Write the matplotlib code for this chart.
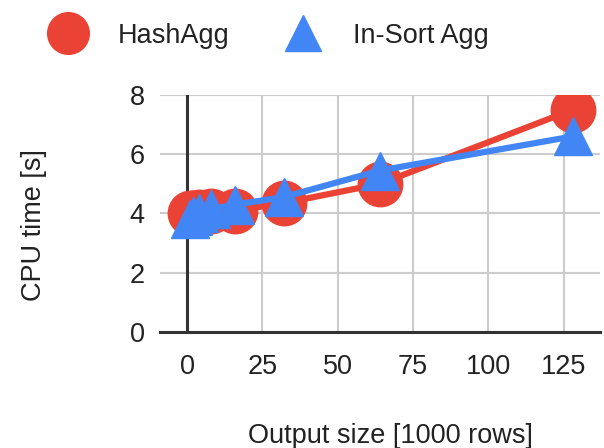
import matplotlib
matplotlib.use("Agg")
import matplotlib.pyplot as plt
from matplotlib.lines import Line2D

# data
output_size = [1, 2, 4, 8, 16, 32, 64, 128]  # 1000 rows
hash_agg = [4.0, 4.0, 4.05, 4.1, 4.1, 4.35, 5.0, 7.5]
insort_agg = [3.8, 3.9, 4.0, 4.15, 4.3, 4.55, 5.45, 6.6]
series_names = ["HashAgg", "In-Sort Agg"]
x_ticks = [0, 25, 50, 75, 100, 125]
y_ticks = [0, 2, 4, 6, 8]

red = "#EA4335"
blue = "#4285F4"

plt.rcParams["font.family"] = ["Liberation Sans", "DejaVu Sans"]

fig = plt.figure(figsize=(6.04, 4.48), dpi=100)
ax = fig.add_axes([0.265, 0.259, 0.728, 0.529])

ax.plot(output_size, hash_agg, color=red, lw=4.5, marker="o", ms=32,
        mec=red, zorder=3)
ax.plot(output_size, insort_agg, color=blue, lw=4.5, marker="^", ms=27,
        mec=blue, zorder=4)

ax.set_xlim(-9, 137)
ax.set_ylim(0, 8)
ax.set_xticks(x_ticks)
ax.set_yticks(y_ticks)
ax.grid(True, color="#cccccc", lw=1.5, zorder=0)
for s in ax.spines.values():
    s.set_visible(False)
ax.axhline(0, color="#333333", lw=2.2, zorder=2, clip_on=False)
ax.axvline(0, color="#333333", lw=2.2, zorder=2)
ax.tick_params(length=0, labelsize=19.5, colors="#222222")
ax.tick_params(axis="y", pad=11)
ax.tick_params(axis="x", pad=16)

ax.set_ylabel("CPU time [s]", fontsize=19.5, color="#222222")
ax.set_xlabel("Output size [1000 rows]", fontsize=19.5, color="#222222")
ax.yaxis.set_label_coords(-0.258, 0.45)
ax.xaxis.set_label_coords(0.523, -0.385)

handles = [
    Line2D([], [], ls="none", marker="o", ms=30, color=red),
    Line2D([], [], ls="none", marker="^", ms=26, color=blue),
]
fig.legend(handles, series_names, loc="center left",
           bbox_to_anchor=(0.045, 0.92), ncol=2, frameon=False,
           fontsize=19.5, handlelength=1.2, handletextpad=1.25,
           columnspacing=2.1, labelcolor="#222222")

fig.savefig("out.png", dpi=100)
